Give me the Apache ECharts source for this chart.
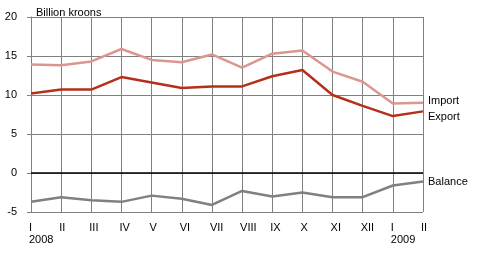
<!DOCTYPE html>
<html><head><meta charset="utf-8">
<script src="https://cdn.jsdelivr.net/npm/echarts@6/dist/echarts.min.js"></script>
<style>html,body{margin:0;padding:0;background:#fff}#c{width:487px;height:253px}</style>
</head><body><div id="c"></div>
<script>
const categories = ['I','II','III','IV','V','VI','VII','VIII','IX','X','XI','XII','I','II'];
const yearLabels = {0:'2008', 12:'2009'};
const importVals = [13.9,13.8,14.3,15.9,14.5,14.2,15.2,13.5,15.3,15.7,13.0,11.7,8.9,9.0];
const exportVals = [10.2,10.7,10.7,12.3,11.6,10.9,11.1,11.1,12.4,13.2,10.0,8.6,7.3,7.9];
const balanceVals = [-3.7,-3.1,-3.5,-3.7,-2.9,-3.3,-4.1,-2.3,-3.0,-2.5,-3.1,-3.1,-1.6,-1.1];
const yTicks = {min:-5, max:20, interval:5};

const font = 'Liberation Sans';
const chart = echarts.init(document.getElementById('c'), null, {renderer:'canvas'});
function mk(name, data, color, labelOffset){
  return {name, type:'line', data, symbol:'none', smooth:false,
    lineStyle:{color, width:2.5}, itemStyle:{color},
    endLabel:{show:true, formatter:name, color:'#000', fontFamily:font, fontSize:11, offset:labelOffset, distance:5},
    z: name==='Balance'?2:3, animation:false};
}
chart.setOption({
  animation:false,
  textStyle:{fontFamily:font},
  title:{text:'Billion kroons', left:31, top:2, textStyle:{fontFamily:font, fontSize:11, fontWeight:'normal', color:'#000'}},
  grid:{left:31, right:64, top:17, bottom:41, containLabel:false},
  xAxis:{type:'category', data:categories, boundaryGap:false,
    axisLine:{show:false}, axisTick:{show:false},
    splitLine:{show:true, lineStyle:{color:'#808080', width:1}},
    axisLabel:{interval:0, color:'#000', fontFamily:font, fontSize:11, margin:10, align:'left', padding:[0,0,0,-2], lineHeight:12,
      formatter:(v,i)=> yearLabels[i] ? v+'\n'+yearLabels[i] : v}},
  yAxis:{type:'value', min:yTicks.min, max:yTicks.max, interval:yTicks.interval,
    axisLine:{show:true, lineStyle:{color:'#808080'}},
    axisTick:{show:true, length:4, lineStyle:{color:'#808080'}},
    splitLine:{show:true, lineStyle:{color:'#808080', width:1}},
    axisLabel:{color:'#000', fontFamily:font, fontSize:11, margin:14}},
  series:[
    mk('Import', importVals, '#dc9690', [0,-2]),
    mk('Export', exportVals, '#b5301a', [0,6]),
    mk('Balance', balanceVals, '#808080', [0,0]),
    {type:'line', data:[], markLine:{silent:true, symbol:'none', label:{show:false},
      lineStyle:{color:'#000', width:1.5, type:'solid'}, data:[{yAxis:0}]}, z:1}
  ]
});
</script></body></html>
